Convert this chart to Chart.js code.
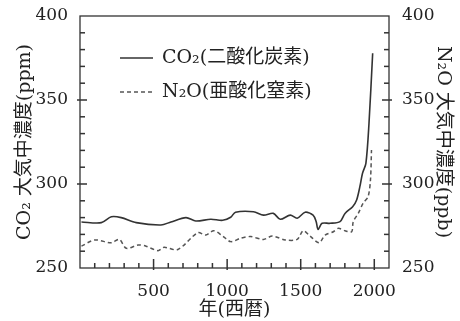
<!DOCTYPE html>
<html>
<head>
<meta charset="utf-8">
<script src="https://cdn.jsdelivr.net/npm/chart.js@4.4.1/dist/chart.umd.min.js"></script>
<style>
  html, body { margin: 0; padding: 0; background: #fff; }
</style>
</head>
<body>
<canvas id="chart" width="460" height="321"></canvas>
<script>
// CO2 (ppm)
const co2Years  = [10, 145, 213, 280, 382, 550, 618, 720, 787, 889, 970, 1024, 1057, 1179, 1247, 1314, 1361, 1429, 1476, 1530, 1584, 1605, 1618, 1645, 1699, 1767, 1801, 1853, 1880, 1902, 1920, 1943, 1964, 1989];
const co2Values = [277.4, 277, 280.5, 280, 277, 275.6, 277.4, 280, 278, 279, 278.4, 280.2, 283.2, 283.5, 281.5, 282.5, 279, 281.5, 279.6, 283.2, 281.5, 277.6, 273, 276.6, 276.6, 277.6, 282.5, 286.5, 290.5, 298.4, 306.4, 312.3, 336, 377.8];

// N2O (ppb)
const n2oYears  = [10, 100, 213, 267, 315, 395, 449, 530, 571, 665, 800, 855, 909, 970, 1024, 1091, 1159, 1247, 1307, 1395, 1476, 1517, 1564, 1625, 1666, 1722, 1756, 1801, 1846, 1857, 1891, 1924, 1958, 1974, 1981];
const n2oValues = [263, 266.7, 265, 267, 261.7, 263.7, 263, 260.3, 262.3, 261, 271, 269.6, 272.2, 269, 265.7, 267.7, 268.7, 267, 269, 266.7, 267, 272.2, 269, 265, 269.6, 271.6, 273.6, 272.2, 271.6, 277.6, 282.5, 288.5, 292.5, 302.4, 320.2];

const seriesLabels = ['CO₂(二酸化炭素)', 'N₂O(亜酸化窒素)'];
const yStep = 10, yLabelEvery = 50;
const xStep = 100, xLabelEvery = 500;

const numFont = '"DejaVu Serif", "Noto Sans CJK JP", serif';
const ink = '#222';

const toPoints = (xs, ys) => xs.map((x, i) => ({ x: x, y: ys[i] }));

// frame, inward ticks (as small filled bars) and the legend
const framePlugin = {
  id: 'frame',
  afterDraw(chart) {
    const ctx = chart.ctx;
    const a = chart.chartArea;
    const sx = chart.scales.x;
    const sy = chart.scales.y;
    const sy2 = chart.scales.y2;
    ctx.save();
    ctx.setLineDash([]);
    ctx.strokeStyle = '#333';
    ctx.lineWidth = 1.3;
    ctx.strokeRect(a.left, a.top, a.right - a.left, a.bottom - a.top);

    ctx.fillStyle = '#333';
    for (let v = sx.min + xStep; v < sx.max; v += xStep) {
      const px = sx.getPixelForValue(v);
      const major = v % xLabelEvery === 0;
      const len = major ? 9 : 5;
      ctx.fillRect(px - 0.75, a.bottom - len, 1.5, len + (major ? 2 : 0));
    }
    for (let v = sy.min + yStep; v < sy.max; v += yStep) {
      const py = sy.getPixelForValue(v);
      const major = v % yLabelEvery === 0;
      const out = major ? 3 : 0;
      ctx.fillRect(a.left - out, py - 0.75, (major ? 7 : 5) + out, 1.5);
    }
    for (let v = sy2.min + yStep; v < sy2.max; v += yStep) {
      const py = sy2.getPixelForValue(v);
      const major = v % yLabelEvery === 0;
      const len = major ? 7 : 5;
      ctx.fillRect(a.right - len, py - 0.75, len + (major ? 3 : 0), 1.5);
    }

    // legend
    const lx = a.left + 40;
    const rows = [a.top + 42, a.top + 76];
    ctx.font = '19px ' + numFont;
    ctx.fillStyle = ink;
    ctx.textBaseline = 'middle';
    chart.data.datasets.forEach((ds, i) => {
      ctx.beginPath();
      ctx.strokeStyle = ds.borderColor;
      ctx.lineWidth = 1.5;
      ctx.setLineDash(ds.borderDash || []);
      ctx.moveTo(lx, rows[i]);
      ctx.lineTo(lx + 33, rows[i]);
      ctx.stroke();
      ctx.setLineDash([]);
      ctx.fillText(ds.label, lx + 42, rows[i]);
    });
    ctx.restore();
  }
};

new Chart(document.getElementById('chart'), {
  type: 'line',
  data: {
    datasets: [{
      label: seriesLabels[0],
      data: toPoints(co2Years, co2Values),
      borderColor: '#333',
      borderWidth: 1.6,
      pointRadius: 0,
      tension: 0.3,
      yAxisID: 'y'
    }, {
      label: seriesLabels[1],
      data: toPoints(n2oYears, n2oValues),
      borderColor: '#555',
      borderWidth: 1.5,
      borderDash: [4, 3],
      pointRadius: 0,
      tension: 0.3,
      yAxisID: 'y2'
    }]
  },
  options: {
    responsive: false,
    animation: false,
    layout: { padding: { top: 16, left: 0, right: 0, bottom: 0 } },
    plugins: {
      legend: { display: false },
      tooltip: { enabled: false }
    },
    scales: {
      x: {
        type: 'linear',
        min: 0,
        max: 2100,
        grid: { display: false },
        border: { display: false },
        ticks: {
          stepSize: xStep,
          autoSkip: false,
          maxRotation: 0,
          padding: 5,
          color: ink,
          font: { family: numFont, size: 17 },
          callback: v => (v % xLabelEvery === 0 && v > 0) ? v : ''
        },
        title: {
          display: true,
          text: '年(西暦)',
          color: ink,
          padding: { top: 2, bottom: 0 },
          font: { family: numFont, size: 19 }
        },
        afterFit: s => { s.height = 53; }
      },
      y: {
        position: 'left',
        min: 250,
        max: 400,
        grid: { display: false },
        border: { display: false },
        ticks: {
          stepSize: yStep,
          autoSkip: false,
          padding: 4,
          color: ink,
          font: { family: numFont, size: 17 },
          callback: v => v % yLabelEvery === 0 ? v : ''
        },
        title: {
          display: true,
          text: 'CO₂ 大気中濃度(ppm)',
          color: ink,
          padding: { top: 14, bottom: 0 },
          font: { family: numFont, size: 19 }
        },
        afterFit: s => { s.width = 80; }
      },
      y2: {
        position: 'right',
        min: 250,
        max: 400,
        grid: { display: false },
        border: { display: false },
        ticks: {
          stepSize: yStep,
          autoSkip: false,
          padding: 5,
          color: ink,
          font: { family: numFont, size: 17 },
          callback: v => v % yLabelEvery === 0 ? v : ''
        },
        title: {
          display: true,
          text: 'N₂O 大気中濃度(ppb)',
          color: ink,
          padding: { top: 6, bottom: 0 },
          font: { family: numFont, size: 19 }
        },
        afterFit: s => { s.width = 71; }
      }
    }
  },
  plugins: [framePlugin]
});
</script>
</body>
</html>
